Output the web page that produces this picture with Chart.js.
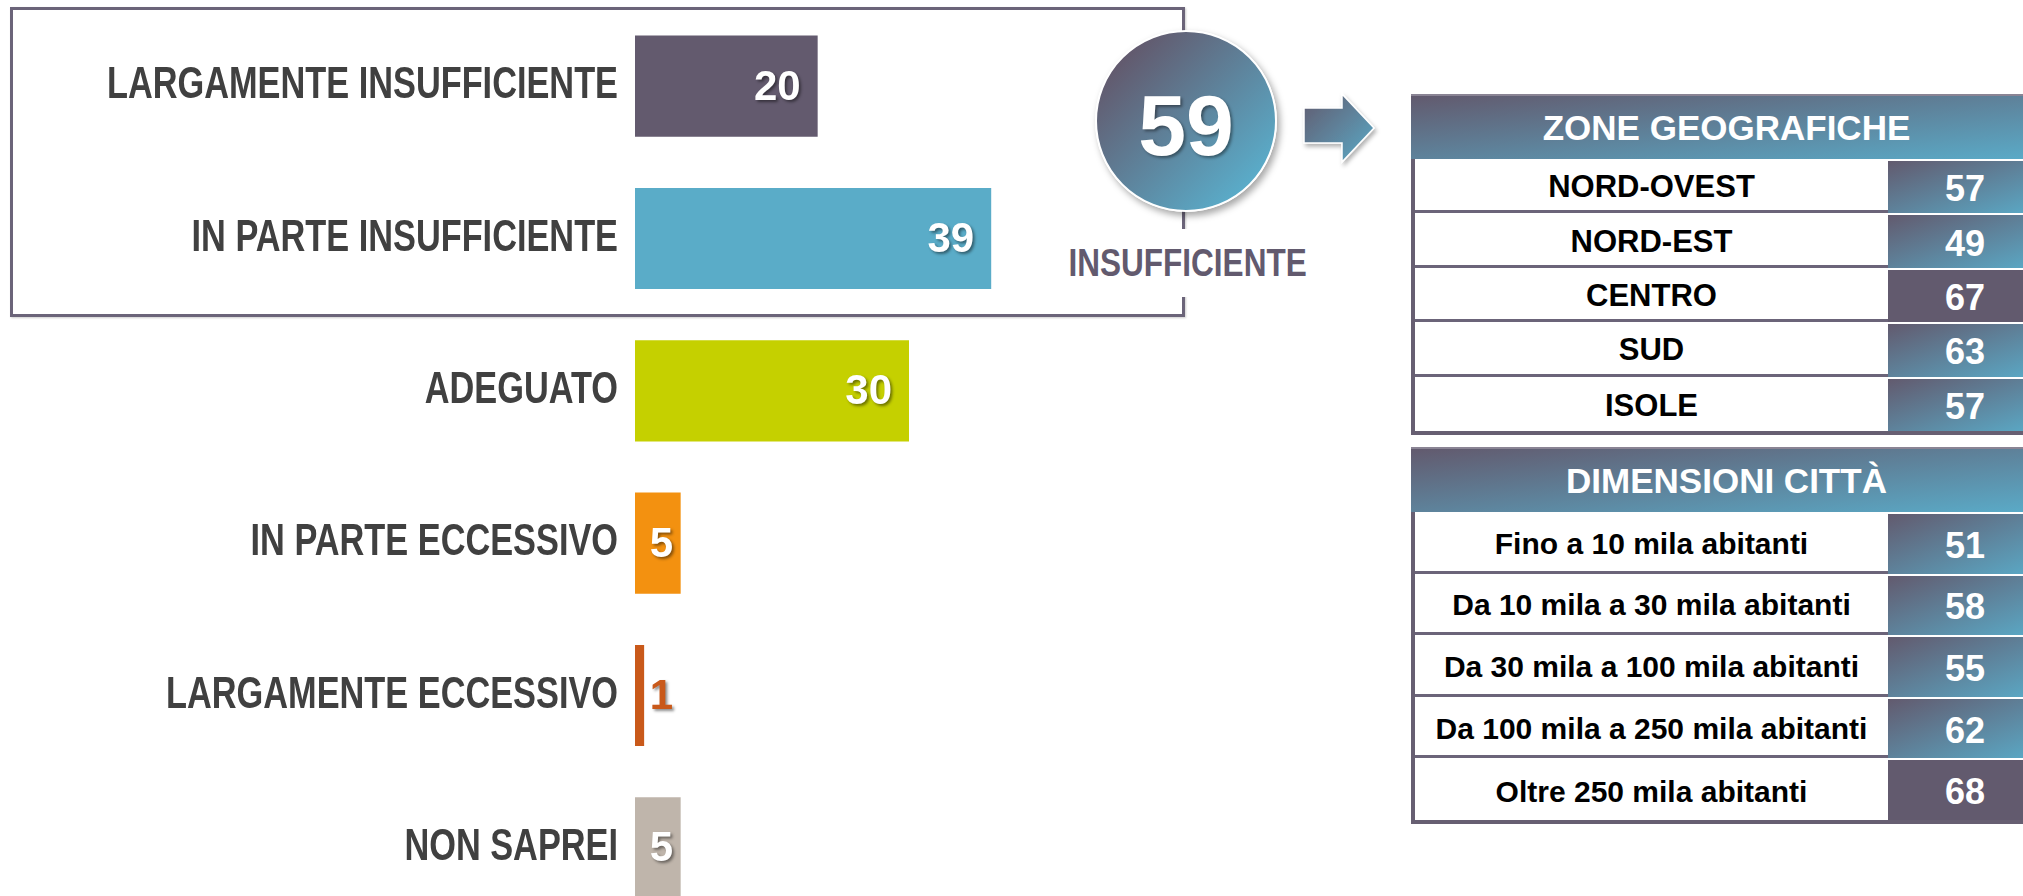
<!DOCTYPE html>
<html>
<head>
<meta charset="utf-8">
<script src="https://cdn.jsdelivr.net/npm/chart.js@4"></script>
<style>
  body { margin: 0; width: 2023px; height: 896px; overflow: hidden; background: #fff; position: relative; font-family: 'Liberation Sans', Arial, sans-serif; }
  #box { position: absolute; left: 10px; top: 7px; width: 1175px; height: 310px; box-sizing: border-box; border: 3px solid #6b6479; box-shadow: 1px 1px 2px rgba(0,0,0,0.2); }
  #chartWrap { position: absolute; left: -200px; top: 0; width: 1246px; height: 934px; }
  #circle { position: absolute; left: 1095px; top: 30px; width: 182px; height: 182px; box-sizing: border-box; border-radius: 50%; border: 2px solid #fff;
    background: linear-gradient(to bottom right, #625a6e 15%, #5aabc8 85%); box-shadow: 3px 4px 7px rgba(0,0,0,0.35);
    color: #fff; font-weight: bold; font-size: 86px; text-align: center; line-height: 186px; text-shadow: 2px 2px 3px rgba(0,0,0,0.4); }
  #insuff { position: absolute; left: 1038px; top: 229px; width: 300px; height: 68px; background: #fff; color: #625a6e; text-align: center; line-height: 68px;
    font-weight: bold; font-size: 38px; }
  #insuff span { display: inline-block; transform: scaleX(0.83); }
  #arrow { position: absolute; left: 1300px; top: 90px; }
  .tbl { position: absolute; left: 1411px; width: 631px; }
  .hdr { height: 65px; box-sizing: border-box; border-top: 2px solid #8a8494; background: linear-gradient(to bottom right, #625a6e 0%, #5aabc8 100%);
    color: #fff; font-weight: bold; text-align: center; }
  .body { border-left: 4px solid #675f72; border-bottom: 4px solid #675f72; }
  .row { display: flex; box-sizing: border-box; }
  .lab { flex: 0 0 473px; box-sizing: border-box; border-bottom: 3px solid #6b6479; color: #000; font-weight: bold; text-align: center; display: flex; align-items: center; justify-content: center; padding-top: 5px; }
  .row:last-child .lab { border-bottom: none; }
  .val { flex: 1; box-sizing: border-box; border-top: 2px solid #fff; color: #fff; font-weight: bold; font-size: 36px; display: flex; align-items: center; justify-content: center; padding-top: 4px; }
  .grad { background: linear-gradient(to bottom right, #625a6e 0%, #5aabc8 100%); }
  .solid { background: #625a6e; }
</style>
</head>
<body>
<div id="box"></div>
<div id="chartWrap"><canvas id="myChart"></canvas></div>
<div id="insuff"><span></span></div>
<div id="circle"></div>
<svg id="arrow" width="84" height="80" viewBox="0 0 84 80">
  <defs>
    <linearGradient id="ag" x1="0" y1="0" x2="1" y2="1">
      <stop offset="0" stop-color="#625a6e"/>
      <stop offset="1" stop-color="#5aabc8"/>
    </linearGradient>
    <filter id="sh" x="-20%" y="-20%" width="150%" height="150%">
      <feDropShadow dx="2" dy="3" stdDeviation="2" flood-color="#000" flood-opacity="0.3"/>
    </filter>
  </defs>
  <path d="M4,18 L42,18 L42,4 L74,38 L42,72 L42,53 L4,53 Z" fill="url(#ag)" stroke="#fff" stroke-width="1.5" filter="url(#sh)"/>
</svg>
<div class="tbl" id="zoneTbl" style="top:94px"></div>
<div class="tbl" id="cityTbl" style="top:447px"></div>

<script>
// giudizio complessivo
var categories = ['LARGAMENTE INSUFFICIENTE', 'IN PARTE INSUFFICIENTE', 'ADEGUATO', 'IN PARTE ECCESSIVO', 'LARGAMENTE ECCESSIVO', 'NON SAPREI'];
var values = [20, 39, 30, 5, 1, 5];
var barColors = ['#635a6e', '#5aacc8', '#c5d000', '#f39110', '#c9591a', '#bfb5ab'];

var insufficienteTotal = 59;
var insufficienteLabel = 'INSUFFICIENTE';

// tabelle a destra
var zoneTitle = 'ZONE GEOGRAFICHE';
var zoneLabels = ['NORD-OVEST', 'NORD-EST', 'CENTRO', 'SUD', 'ISOLE'];
var zoneValues = [57, 49, 67, 63, 57];

var cityTitle = 'DIMENSIONI CITTÀ';
var cityLabels = ['Fino a 10 mila abitanti', 'Da 10 mila a 30 mila abitanti', 'Da 30 mila a 100 mila abitanti', 'Da 100 mila a 250 mila abitanti', 'Oltre 250 mila abitanti'];
var cityValues = [51, 58, 55, 62, 68];

var font = "'Liberation Sans', Arial, sans-serif";

document.getElementById('circle').textContent = insufficienteTotal;
document.querySelector('#insuff span').textContent = insufficienteLabel;

function buildTable(id, title, labels, vals, rowH, titleSize, labelSize) {
    var el = document.getElementById(id);
    var max = Math.max.apply(null, vals);
    var html = '<div class="hdr" style="font-size:' + titleSize + 'px;line-height:63px">' + title + '</div><div class="body">';
    for (var i = 0; i < labels.length; i++) {
        html += '<div class="row" style="height:' + rowH + 'px">' +
            '<div class="lab" style="font-size:' + labelSize + 'px">' + labels[i] + '</div>' +
            '<div class="val ' + (vals[i] === max ? 'solid' : 'grad') + '">' + vals[i] + '</div></div>';
    }
    html += '</div>';
    el.innerHTML = html;
}
buildTable('zoneTbl', zoneTitle, zoneLabels, zoneValues, 54.4, 35, 31);
buildTable('cityTbl', cityTitle, cityLabels, cityValues, 61.6, 35, 30);

// the canvas starts 200px left of the page so the axis has room
var axisWidth = 835;
var labelEdge = axisWidth - 17;

// le etichette dell'asse sono strette come nell'originale
var narrowTicks = {
    id: 'narrowTicks',
    beforeDraw: function(chart) {
        var c = chart.ctx;
        c.save();
        c.translate(labelEdge, 0);
        c.scale(0.78, 1);
        c.translate(-labelEdge, 0);
    },
    beforeDatasetsDraw: function(chart) {
        chart.ctx.restore();
    }
};

// etichette valore dentro le barre
var valueLabels = {
    id: 'valueLabels',
    afterDatasetsDraw: function(chart) {
        var ctx = chart.ctx;
        var meta = chart.getDatasetMeta(0);
        var base = chart.scales.x.getPixelForValue(0);
        ctx.save();
        ctx.font = 'bold 42px ' + font;
        ctx.textAlign = 'right';
        ctx.textBaseline = 'middle';
        ctx.shadowColor = 'rgba(0,0,0,0.45)';
        ctx.shadowOffsetX = 2;
        ctx.shadowOffsetY = 2;
        ctx.shadowBlur = 3;
        meta.data.forEach(function(bar, i) {
            var v = chart.data.datasets[0].data[i];
            var x = Math.max(bar.x - 17, base + 38);
            ctx.fillStyle = v < 3 ? barColors[i] : '#fff';
            ctx.fillText(v, x, bar.y + 2);
        });
        ctx.restore();
    }
};

var ctx = document.getElementById('myChart').getContext('2d');
var myChart = new Chart(ctx, {
    type: 'bar',
    data: {
        labels: categories,
        datasets: [{
            data: values,
            backgroundColor: barColors,
            barPercentage: 0.664,
            categoryPercentage: 1
        }]
    },
    options: {
        indexAxis: 'y',
        responsive: true,
        maintainAspectRatio: false,
        animation: false,
        devicePixelRatio: 1,
        layout: { padding: { top: 10, bottom: 10, left: 0, right: 0 } },
        plugins: { legend: { display: false }, tooltip: { enabled: false } },
        scales: {
            x: { display: false, min: 0, max: 45 },
            y: {
                grid: { display: false, drawTicks: false },
                border: { display: false },
                ticks: { color: '#404040', font: { family: font, size: 44, weight: 'bold' }, padding: 17 },
                afterFit: function(axis) {
                    axis.width = axisWidth;
                    axis.paddingTop = 0;
                    axis.paddingBottom = 0;
                }
            }
        }
    },
    plugins: [narrowTicks, valueLabels]
});
</script>
</body>
</html>
